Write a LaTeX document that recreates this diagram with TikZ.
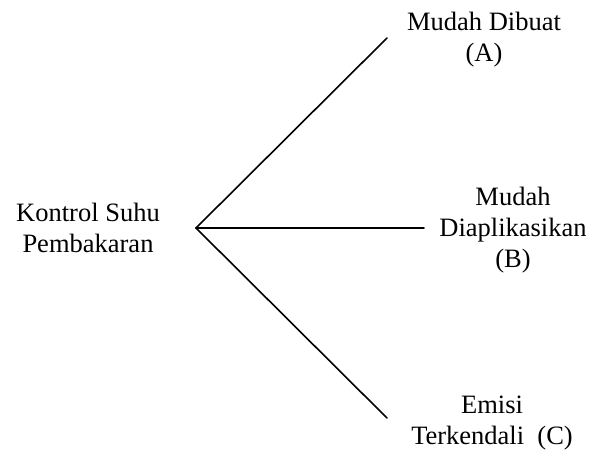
\documentclass[tikz,border=0pt]{standalone}
\usepackage{fontspec}
\setmainfont{Liberation Serif}
\begin{document}
\begin{tikzpicture}[x=1pt,y=-1pt,
  lbl/.style={inner sep=0pt,align=center,font=\fontsize{26.5}{31}\selectfont},
  branch/.style={line width=1.6pt,line cap=round}]
\useasboundingbox (0,0) rectangle (592,452);
% hub and branch ends
\coordinate (hub) at (196,228);
\coordinate (endA) at (387,38);
\coordinate (endB) at (424,228);
\coordinate (endC) at (387,418);
% labels
\node[lbl] (root) at (88,228) {Kontrol Suhu\\Pembakaran};
\node[lbl] (A) at (484,40) {Mudah Dibuat\\(A)};
\node[lbl] (B) at (513,230) {Mudah\\Diaplikasikan\\(B)};
\node[lbl] (C) at (492,423) {Emisi\\Terkendali\ \ (C)};
% branches
\draw[branch] (hub) -- (endA);
\draw[branch] (hub) -- (endB);
\draw[branch] (hub) -- (endC);
\end{tikzpicture}
\end{document}
